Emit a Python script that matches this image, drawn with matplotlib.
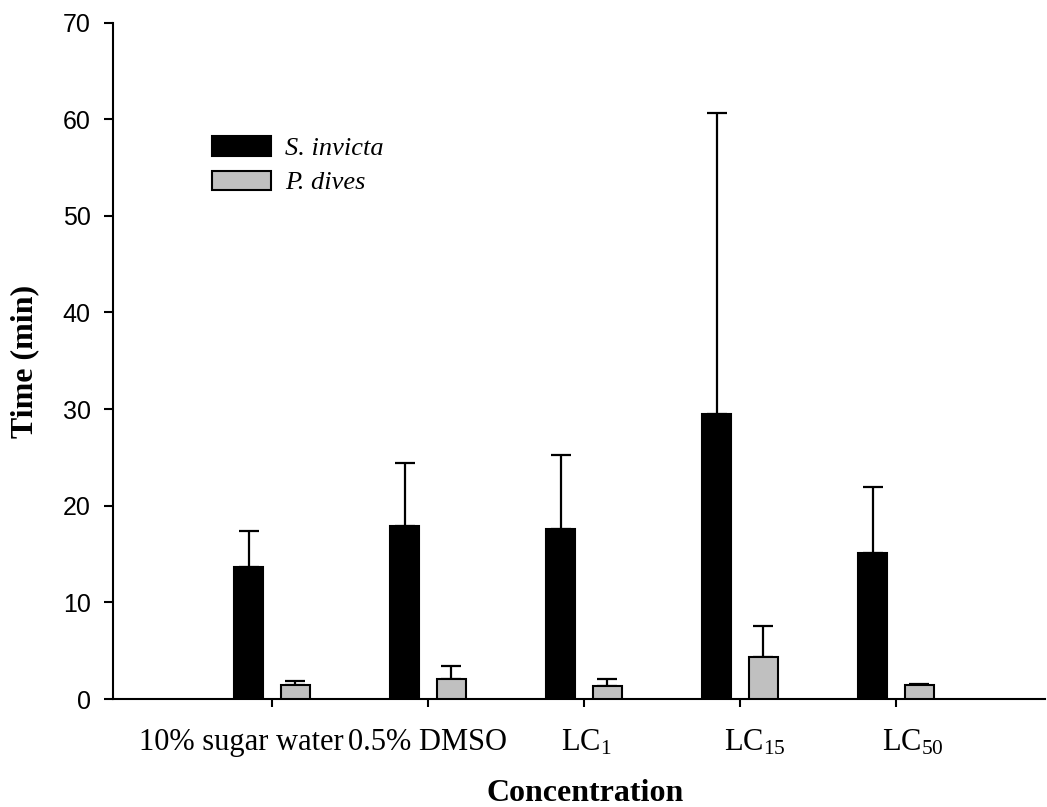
import numpy as np
import matplotlib
matplotlib.use("Agg")
import matplotlib.pyplot as plt
from matplotlib.transforms import ScaledTranslation

plt.rcParams['mathtext.fontset'] = 'custom'
plt.rcParams['mathtext.rm'] = 'Liberation Serif'
plt.rcParams['mathtext.it'] = 'Liberation Serif:italic'

# Time to reach the bait, mean and upper error per treatment
categories = ["10% sugar water", "0.5% DMSO", "LC$_{1}$", "LC$_{15}$", "LC$_{50}$"]
s_invicta = [13.7, 17.9, 17.6, 29.5, 15.1]
s_invicta_err = [3.7, 6.5, 7.7, 31.1, 6.8]
p_dives = [1.4, 2.1, 1.3, 4.3, 1.4]
p_dives_err = [0.5, 1.3, 0.8, 3.3, 0.2]
y_ticks = [0, 10, 20, 30, 40, 50, 60, 70]

fig = plt.figure(figsize=(10.47, 8.07), dpi=100)
ax = fig.add_axes([0.1084, 0.1338, 0.8896, 0.8383])

x = np.arange(len(categories))
offset = 0.15
width = 0.19

b1 = ax.bar(x - offset, s_invicta, width, color='black', edgecolor='black',
            linewidth=1.5, label='S. invicta', zorder=3)
b2 = ax.bar(x + offset, p_dives, width, color='#c0c0c0', edgecolor='black',
            linewidth=1.5, label='P. dives', zorder=3)

# upper error bars only
ax.errorbar(x - offset, s_invicta, yerr=[np.zeros(len(x)), s_invicta_err],
            fmt='none', ecolor='black', elinewidth=1.6, capsize=7.5,
            capthick=1.6, zorder=2)
ax.errorbar(x + offset, p_dives, yerr=[np.zeros(len(x)), p_dives_err],
            fmt='none', ecolor='black', elinewidth=1.6, capsize=7.5,
            capthick=1.6, zorder=2)

ax.set_xlim(-1.016, 4.955)
ax.set_ylim(0, 70)

ax.spines['top'].set_visible(False)
ax.spines['right'].set_visible(False)
ax.spines['left'].set_linewidth(1.5)
ax.spines['bottom'].set_linewidth(1.5)

ax.set_yticks(y_ticks)
ax.set_yticklabels([str(v) for v in y_ticks], family='Liberation Sans', fontsize=18)
ax.tick_params(axis='y', direction='out', length=6.5, width=1.5, pad=10)

ax.set_xticks(x)
ax.set_xticklabels([])
ax.tick_params(axis='x', direction='out', length=5.8, width=1.5)

# category labels below the axis, nudged in pixels
label_dx = [-31, 0, 2, 15, 17]
for xi, lab, dx in zip(x, categories, label_dx):
    tr = ax.get_xaxis_transform() + ScaledTranslation(dx / 100, -29 / 100, fig.dpi_scale_trans)
    ax.text(xi, 0, lab, transform=tr, ha='center', va='top',
            family='Liberation Serif', fontsize=22)

fig.text(25 / 1047, 1 - 361 / 807, 'Time (min)', rotation=90, ha='center', va='center',
         family='Liberation Serif', fontweight='bold', fontsize=23)
fig.text(585 / 1047, 1 - 801 / 807, 'Concentration', ha='center', va='baseline',
         family='Liberation Serif', fontweight='bold', fontsize=23)

leg = ax.legend(handles=[b1, b2], loc='upper left',
                bbox_to_anchor=(211.7 / 1047, 1 - 136 / 807),
                bbox_transform=fig.transFigure, frameon=False,
                prop={'family': 'Liberation Serif', 'style': 'italic', 'size': 19},
                handlelength=2.24, handleheight=0.76, handletextpad=0.53,
                labelspacing=0.4, borderpad=0, borderaxespad=0)

fig.savefig('out.png', dpi=100)
